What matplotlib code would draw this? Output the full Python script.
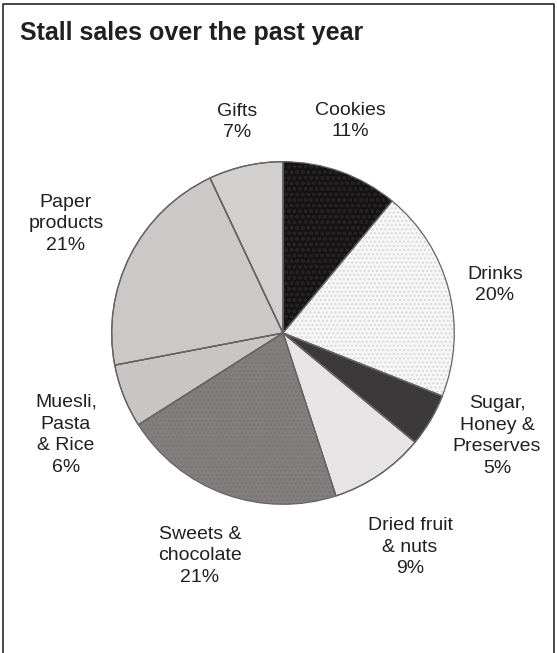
import matplotlib
matplotlib.use("Agg")
import matplotlib.pyplot as plt
from matplotlib.lines import Line2D

categories = ["Cookies", "Drinks", "Sugar,\nHoney &\nPreserves", "Dried fruit\n& nuts",
              "Sweets &\nchocolate", "Muesli,\nPasta\n& Rice", "Paper\nproducts", "Gifts"]
values = [11, 20, 5, 9, 21, 6, 21, 7]
colors = ["#141212", "#f7f7f7", "#3b3939", "#e6e4e4", "#837f7f", "#c9c5c5", "#ccc8c8", "#d2cfcf"]
hatches = ["ooo", "....", None, None, "....", None, None, None]
hatch_colors = ["#242222", "#d8d8d8", None, None, "#787474", None, None, None]
# label centre positions in pixels (x, y from top)
label_pos = [(350, 121), (495, 285), (497, 436), (410, 547),
             (200, 556), (66, 435), (66, 224), (237, 122)]

W, H = 557, 653
fig = plt.figure(figsize=(W / 100, H / 100), dpi=100)
fig.patch.set_facecolor("white")

def px(x, y):
    return x / W, 1 - y / H

# pie axes
cx, cy, r = 283, 333, 173
ax = fig.add_axes([(cx - r) / W, 1 - (cy + r) / H, 2 * r / W, 2 * r / H])
wedges, _ = ax.pie(values, colors=colors, startangle=90, counterclock=False, radius=1,
                   wedgeprops=dict(edgecolor="#5a5858", linewidth=0.9))
for w, h, hc in zip(wedges, hatches, hatch_colors):
    if h:
        w.set_hatch(h)
        w.set_edgecolor(hc)
        w.set_linewidth(0)
# redraw outlines on top
ax.pie(values, colors=["none"] * len(values), startangle=90, counterclock=False, radius=1,
       wedgeprops=dict(edgecolor="#666464", linewidth=0.9, fill=False))
ax.set_xlim(-1.01, 1.01)
ax.set_ylim(-1.01, 1.01)
ax.set_aspect("equal")
ax.axis("off")

font = ["Liberation Sans", "DejaVu Sans"]
for lab, v, (x, y) in zip(categories, values, label_pos):
    fig.text(*px(x, y), f"{lab}\n{v}%", ha="center", va="center", fontsize=14,
             family=font, color="#231f20", linespacing=1.36)

fig.text(*px(20, 33), "Stall sales over the past year", ha="left", va="center",
         fontsize=18, fontweight="bold", family=["Liberation Sans", "DejaVu Sans"], color="#231f20")

# frame (open at bottom)
xs = [3, 3, 554, 554]
ys = [H, 4, 4, H]
fig.add_artist(Line2D([x / W for x in xs], [1 - y / H for y in ys], color="#3a3838",
                      linewidth=1.3, transform=fig.transFigure))

fig.savefig("out.png", dpi=100)
